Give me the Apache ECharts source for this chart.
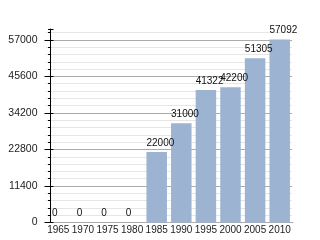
<!DOCTYPE html>
<html><head><meta charset="utf-8">
<script src="https://cdn.jsdelivr.net/npm/echarts@6/dist/echarts.min.js"></script>
<style>html,body{margin:0;padding:0;background:#fff}#c{width:320px;height:240px}</style>
</head><body><div id="c"></div>
<script>
const years = ['1965','1970','1975','1980','1985','1990','1995','2000','2005','2010'];
const population = [0, 0, 0, 0, 22000, 31000, 41322, 42200, 51305, 57092];
const majorTicks = [0, 11400, 22800, 34200, 45600, 57000];
const minorStep = 2280;
const axisMax = 60400;

const chart = echarts.init(document.getElementById('c'), null, {renderer: 'canvas'});
const font = 'Liberation Sans, Arial, sans-serif';
const majorStep = majorTicks[1] - majorTicks[0];
chart.setOption({
  animation: false,
  grid: {left: 46, right: 28, top: 29, bottom: 17.5, containLabel: false},
  xAxis: {
    type: 'category', data: years,
    axisLine: {lineStyle: {color: '#000', width: 1}},
    axisTick: {show: false},
    axisLabel: {fontSize: 10, color: '#222', margin: 3, fontFamily: font, interval: 0}
  },
  yAxis: [{
    type: 'value', position: 'left', offset: -4.5, min: 0, max: axisMax, interval: majorStep, z: 2,
    axisLine: {show: true, lineStyle: {color: '#000', width: 1}},
    axisTick: {show: true, length: 6, lineStyle: {color: '#000'}},
    axisLabel: {fontSize: 10.5, color: '#222', margin: 13, fontFamily: font, showMaxLabel: false,
      formatter: v => String(v)},
    splitLine: {show: true, showMaxLine: false, lineStyle: {color: '#ababab', width: 1}}
  }, {
    type: 'value', position: 'left', offset: -4.5, min: 0, max: axisMax, interval: minorStep, z: 1,
    axisLine: {show: false},
    axisTick: {show: true, length: 2.5, lineStyle: {color: '#000'}},
    axisLabel: {show: false},
    splitLine: {show: true, showMaxLine: false, lineStyle: {color: '#e6e6e6', width: 1}}
  }, {
    type: 'value', position: 'left', offset: -4.5, min: 0, max: axisMax, interval: majorStep, z: 3,
    axisLine: {show: false},
    axisTick: {show: true, inside: true, length: 3, lineStyle: {color: '#000'}},
    axisLabel: {show: false},
    splitLine: {show: false}
  }],
  series: [{
    type: 'bar', yAxisIndex: 0, barWidth: 20.5,
    data: population.map(v => v === 0
      ? {value: v, label: {position: [4, -14]}}
      : v),
    itemStyle: {color: '#9cb4d2'},
    label: {show: true, position: [0, -14], align: 'left', verticalAlign: 'top',
      fontSize: 10, color: '#111', fontFamily: font}
  }]
});
</script></body></html>
